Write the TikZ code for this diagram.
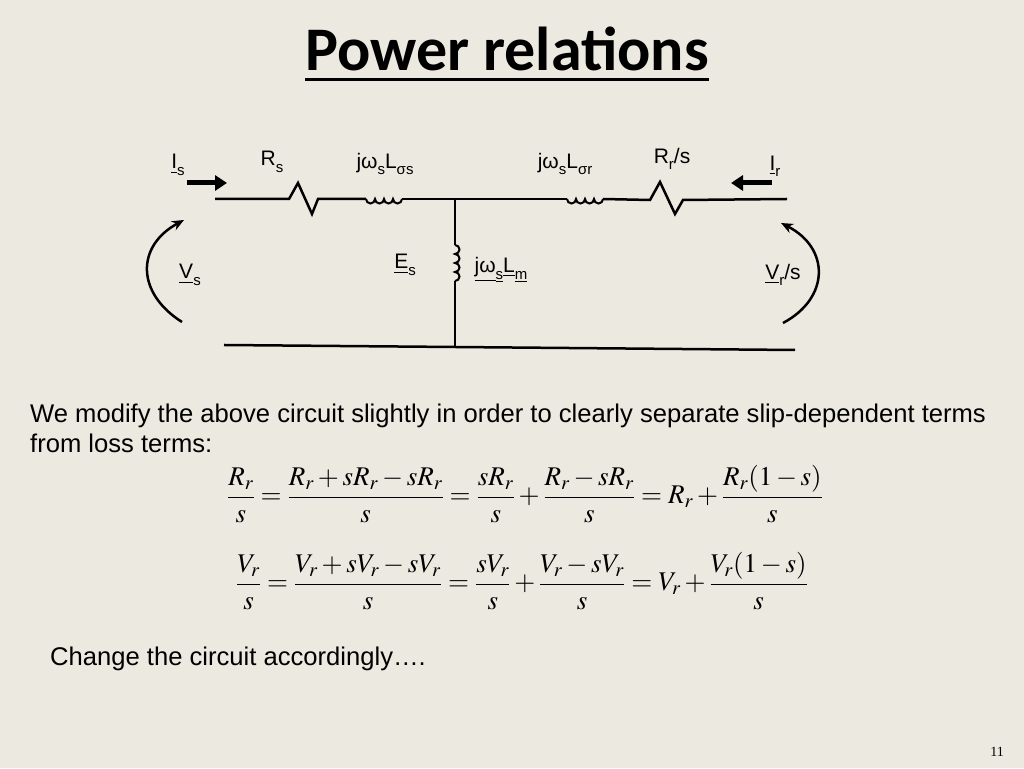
\documentclass[tikz,border=0pt]{standalone}
\usepackage[no-math]{fontspec}
\usepackage{mathptmx}
\setmainfont{Liberation Sans}
\newfontfamily\titleFont{Carlito}
\newfontfamily\pageFont{Liberation Serif}
\usetikzlibrary{arrows.meta}
\definecolor{slideColor}{RGB}{236,233,224}
\newcommand{\lowText}[1]{\raisebox{-0.3em}{\fontsize{15}{17}\selectfont #1}}

\begin{document}
\begin{tikzpicture}[x=1pt,y=1pt]

          \tikzstyle{labelNode} = [inner sep=0pt, font=\fontsize{21}{24}\selectfont];
          \tikzstyle{textNode} = [inner sep=0pt, anchor=base west, font=\fontsize{25.6}{31}\selectfont];
          \tikzstyle{mathNode} = [inner sep=0pt, font=\fontsize{27}{31}\selectfont];

          \tikzstyle{wireEdge} = [line width=2.5pt];
          \tikzstyle{coilEdge} = [line width=2pt];
          \tikzstyle{currentEdge} = [line width=5pt, -{Triangle[length=12pt,width=15pt]}];
          \tikzstyle{voltageEdge} = [line width=2.5pt, -{Stealth[length=12pt,width=10pt]}];

          \fill[slideColor] (0,0) rectangle (1024,768);
          \useasboundingbox (0,0) rectangle (1024,768);

          \node[font=\titleFont\bfseries\fontsize{62}{70}\selectfont] (titleText) at (507,713) {\underline{Power relations}};

          \coordinate (topLeft) at (215,569);
          \coordinate (rsA) at (289,569);
          \coordinate (rsB) at (318,569);
          \coordinate (lsA) at (366,569);
          \coordinate (junTop) at (455,569);
          \coordinate (lrA) at (567,569);
          \coordinate (rrA) at (650,568);
          \coordinate (rrB) at (683,568);
          \coordinate (topRight) at (787,569);
          \coordinate (lmA) at (455,523);
          \coordinate (junBot) at (455,421);
          \coordinate (botLeft) at (224,423);
          \coordinate (botRight) at (795,418);

          \coordinate (isTail) at (187,585);
          \coordinate (isHead) at (227,585);
          \coordinate (irTail) at (772,585);
          \coordinate (irHead) at (731,585);
          \coordinate (vsBot) at (182,446);
          \coordinate (vsTop) at (184,548);
          \coordinate (vrBot) at (783,445);
          \coordinate (vrTop) at (781,545);

          \draw[wireEdge] (topLeft) -- (rsA) -- ++(9,16) -- ++(14,-31) -- (rsB) -- (lsA);
          \draw[coilEdge] (lsA) arc[start angle=180, end angle=360, radius=4.5]
            arc[start angle=180, end angle=360, radius=4.5]
            arc[start angle=180, end angle=360, radius=4.5]
            arc[start angle=180, end angle=360, radius=4.5] coordinate (lsB);
          \draw[wireEdge] (lsB) -- (junTop) -- (lrA);
          \draw[coilEdge] (lrA) arc[start angle=180, end angle=360, radius=4.5]
            arc[start angle=180, end angle=360, radius=4.5]
            arc[start angle=180, end angle=360, radius=4.5]
            arc[start angle=180, end angle=360, radius=4.5] coordinate (lrB);
          \draw[wireEdge] (lrB) -- (rrA) -- ++(10,18) -- ++(15,-32) -- (rrB) -- (topRight);
          \draw[wireEdge] (junTop) -- (lmA);
          \draw[coilEdge] (lmA) arc[start angle=90, end angle=-90, radius=4.5]
            arc[start angle=90, end angle=-90, radius=4.5]
            arc[start angle=90, end angle=-90, radius=4.5]
            arc[start angle=90, end angle=-90, radius=4.5] coordinate (lmB);
          \draw[wireEdge] (lmB) -- (junBot);
          \draw[wireEdge] (botLeft) -- (junBot) -- (botRight);

          \draw[currentEdge] (isTail) -- (isHead);
          \draw[currentEdge] (irTail) -- (irHead);
          \draw[voltageEdge] (vsBot) .. controls (136,475) and (136,522) .. (vsTop);
          \draw[voltageEdge] (vrBot) .. controls (830,470) and (830,520) .. (vrTop);

          \node[labelNode] (isLabel) at (178,603) {\underline{I}\lowText{s}};
          \node[labelNode] (rsLabel) at (272,606) {R\lowText{s}};
          \node[labelNode] (lsLabel) at (385,604) {jω\lowText{s}L\lowText{σs}};
          \node[labelNode] (lrLabel) at (565,604) {jω\lowText{s}L\lowText{σr}};
          \node[labelNode] (rrLabel) at (672,609) {R\lowText{r}/s};
          \node[labelNode] (irLabel) at (775,602) {\underline{I}\lowText{r}};
          \node[labelNode] (vsLabel) at (190,493) {\underline{V}\lowText{s}};
          \node[labelNode] (esLabel) at (405,503) {\underline{E}\lowText{s}};
          \node[labelNode] (lmLabel) at (501,498) {\underline{jω}\lowText{\underline{s}}\underline{L}\lowText{\underline{m}}};
          \node[labelNode] (vrLabel) at (783,493) {\underline{V}\lowText{r}/s};

          \node[textNode] (introLine) at (30,345) {We modify the above circuit slightly in order to clearly separate slip-dependent terms};
          \node[textNode] (lossLine) at (30,315) {from loss terms:};

          \node[mathNode] (rrEquation) at (525,274) {$\displaystyle \frac{R_r}{s}=\frac{R_r+sR_r-sR_r}{s}=\frac{sR_r}{s}+\frac{R_r-sR_r}{s}=R_r+\frac{R_r(1-s)}{s}$};
          \node[mathNode] (vrEquation) at (522,187) {$\displaystyle \frac{V_r}{s}=\frac{V_r+sV_r-sV_r}{s}=\frac{sV_r}{s}+\frac{V_r-sV_r}{s}=V_r+\frac{V_r(1-s)}{s}$};

          \node[textNode] (changeLine) at (50,103) {Change the circuit accordingly….};
          \node[font=\pageFont\fontsize{14}{16}\selectfont] (pageNumber) at (997,16) {11};
        \end{tikzpicture}
\end{document}
